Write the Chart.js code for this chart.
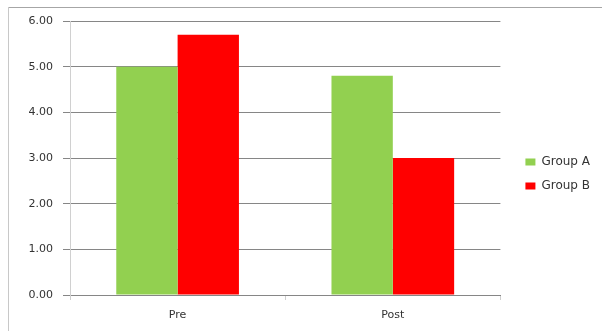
<!DOCTYPE html>
<html><head><meta charset="utf-8">
<script src="https://cdn.jsdelivr.net/npm/chart.js@4.4.0/dist/chart.umd.min.js"></script>
<style>html,body{margin:0;padding:0;background:#fff}#wrap{width:602px;height:331px;position:relative}</style>
</head><body><div id="wrap"><canvas id="c"></canvas></div>
<script>
const categories = ['Pre', 'Post'];
const seriesNames = ['Group A', 'Group B'];
const groupA = [5.00, 4.80];
const groupB = [5.70, 3.00];
const yMin = 0, yMax = 6, yStep = 1;

const frame = {
  id: 'frame',
  beforeDraw(chart) {
    const ctx = chart.ctx;
    ctx.save();
    ctx.lineWidth = 1;
    ctx.strokeStyle = '#a6a6a6';
    ctx.beginPath(); ctx.moveTo(8, 7.5); ctx.lineTo(602, 7.5); ctx.stroke();
    ctx.strokeStyle = '#c8c8c8';
    ctx.beginPath(); ctx.moveTo(8.5, 7); ctx.lineTo(8.5, 331); ctx.stroke();
    ctx.restore();
  },
  afterLayout(chart) {
    const lg = chart.legend;
    if (lg) {
      const dx = chart.chartArea.right + 13 - lg.left;
      lg.left += dx; lg.right += dx + 30; lg.width += 30;
      lg.top -= 2; lg.bottom -= 2;
    }
  }
};

const font = { family: 'DejaVu Sans', size: 11 };
new Chart(document.getElementById('c'), {
  type: 'bar',
  data: {
    labels: categories,
    datasets: [
      { label: seriesNames[0], data: groupA, backgroundColor: '#92D050', borderWidth: 0 },
      { label: seriesNames[1], data: groupB, backgroundColor: '#FF0000', borderWidth: 0 }
    ]
  },
  options: {
    responsive: true, maintainAspectRatio: false, animation: false, devicePixelRatio: 1,
    layout: { padding: { left: 8, top: 21, right: 15, bottom: 0 } },
    datasets: { bar: { categoryPercentage: 0.57, barPercentage: 1.0 } },
    plugins: {
      tooltip: { enabled: false },
      legend: {
        position: 'right', align: 'center',
        labels: { boxWidth: 10, boxHeight: 7, padding: 12, color: '#333', font: { family: 'DejaVu Sans', size: 12 } }
      }
    },
    scales: {
      x: {
        grid: { offset: true, drawOnChartArea: false, tickLength: 5, color: '#cfcfcf' },
        border: { color: '#868686' },
        ticks: { color: '#333', font: font, padding: 9 },
        afterFit(s) { s.height = 36; }
      },
      y: {
        min: yMin, max: yMax,
        grid: { color: '#868686', tickLength: 7 },
        border: { color: '#d0d0d0' },
        ticks: { stepSize: yStep, color: '#333', font: font, padding: 10, callback: v => v.toFixed(2) },
        afterFit(s) { s.width = 62; }
      }
    }
  },
  plugins: [frame]
});
</script></body></html>
